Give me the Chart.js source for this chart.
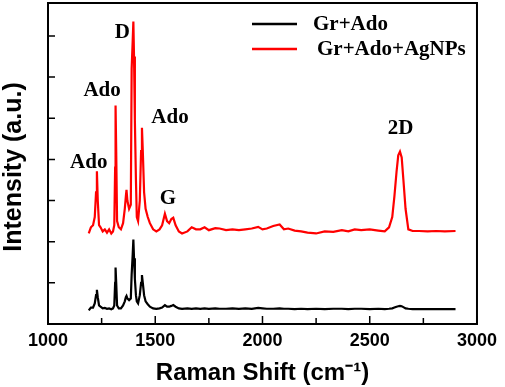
<!DOCTYPE html>
<html>
<head>
<meta charset="utf-8">
<script src="https://cdn.jsdelivr.net/npm/chart.js@4/dist/chart.umd.min.js"></script>
<style>
  html, body { margin: 0; padding: 0; background: #fff; }
  #wrap { width: 505px; height: 387px; }
</style>
</head>
<body>
<div id="wrap"><canvas id="raman-chart" width="505" height="387"></canvas></div>
<script>
// Raman shift positions (cm-1), shared by both spectra
var shift = [1190, 1200, 1210, 1218, 1224, 1228, 1232, 1238, 1245, 1255, 1265, 1275, 1285, 1295, 1303, 1309,
    1313, 1315, 1318, 1322, 1330, 1340, 1350, 1358, 1363, 1366, 1370, 1378, 1386, 1390, 1395, 1398, 1401,
    1405, 1410, 1414, 1420, 1428, 1434, 1438, 1442, 1448, 1455, 1465, 1475, 1490, 1505, 1520, 1532, 1545,
    1555, 1565, 1575, 1584, 1595, 1610, 1625, 1650, 1670, 1690, 1710, 1730, 1750, 1780, 1800, 1830, 1860,
    1890, 1920, 1950, 1980, 2000, 2020, 2050, 2080, 2100, 2120, 2150, 2180, 2210, 2250, 2290, 2330, 2370,
    2400, 2430, 2460, 2500, 2540, 2570, 2590, 2605, 2615, 2625, 2633, 2641, 2649, 2657, 2667, 2680, 2700,
    2730, 2770, 2810, 2850, 2900];

// Gr+Ado (black)
var grAdo = [0.33, 0.40, 0.40, 0.50, 0.70, 0.83, 0.65, 0.45, 0.42, 0.38, 0.39, 0.37, 0.38, 0.36, 0.38, 0.45,
    1.00, 1.37, 1.00, 0.45, 0.38, 0.38, 0.45, 0.55, 0.65, 0.68, 0.62, 0.58, 0.62, 1.20, 1.70, 2.05, 1.60,
    1.10, 0.70, 0.55, 0.50, 0.70, 1.00, 1.19, 1.00, 0.70, 0.55, 0.48, 0.42, 0.38, 0.37, 0.38, 0.40, 0.46,
    0.42, 0.42, 0.44, 0.46, 0.42, 0.38, 0.37, 0.38, 0.37, 0.38, 0.37, 0.38, 0.37, 0.38, 0.37, 0.37, 0.38,
    0.37, 0.38, 0.37, 0.39, 0.38, 0.37, 0.37, 0.38, 0.37, 0.37, 0.36, 0.37, 0.36, 0.37, 0.36, 0.37, 0.37,
    0.36, 0.37, 0.37, 0.36, 0.37, 0.36, 0.37, 0.38, 0.40, 0.42, 0.43, 0.44, 0.43, 0.41, 0.38, 0.37, 0.36,
    0.36, 0.36, 0.36, 0.36, 0.36];

// Gr+Ado+AgNPs (red)
var grAdoAg = [2.20, 2.35, 2.40, 2.60, 3.20, 3.71, 3.00, 2.40, 2.35, 2.25, 2.30, 2.22, 2.30, 2.20, 2.25, 2.40,
    3.80, 5.31, 4.20, 2.50, 2.35, 2.30, 2.45, 2.80, 3.10, 3.26, 3.00, 2.80, 2.90, 6.20, 6.90, 7.35, 6.50,
    4.95, 3.50, 2.60, 2.50, 3.00, 4.20, 4.77, 4.20, 3.20, 2.80, 2.60, 2.45, 2.30, 2.25, 2.30, 2.40, 2.68,
    2.50, 2.45, 2.55, 2.58, 2.40, 2.25, 2.20, 2.25, 2.35, 2.30, 2.30, 2.35, 2.28, 2.33, 2.32, 2.28, 2.30,
    2.28, 2.30, 2.32, 2.36, 2.30, 2.32, 2.38, 2.42, 2.30, 2.32, 2.27, 2.25, 2.22, 2.20, 2.25, 2.24, 2.28,
    2.25, 2.30, 2.28, 2.30, 2.27, 2.25, 2.35, 2.60, 3.10, 3.70, 4.10, 4.19, 4.05, 3.50, 2.80, 2.30, 2.26,
    2.26, 2.25, 2.26, 2.25, 2.26];

// peak annotations
var peakNames = ['Ado', 'Ado', 'D', 'Ado', 'G', '2D'];
var peakShift = [1190, 1252, 1346, 1569, 1559, 2644];
var peakHeight = [3.93, 5.66, 7.07, 5.02, 3.05, 4.76];

var xMajor = [1000, 1500, 2000, 2500, 3000];
var xMinor = [1250, 1750, 2250, 2750];
var yMajor = [1, 2, 3, 4, 5, 6, 7];

function toPoints(xs, ys) {
    return xs.map(function (v, i) { return {x: v, y: ys[i]}; });
}

var serifBold = 'bold 21px "Liberation Serif", "Times New Roman", serif';
var sansBold = '"Liberation Sans", Arial, sans-serif';

var decorations = {
    id: 'decorations',
    afterDatasetsDraw: function (chart) {
        var ctx = chart.ctx, a = chart.chartArea, x = chart.scales.x, y = chart.scales.y;
        ctx.save();
        ctx.strokeStyle = '#000';
        ctx.lineWidth = 2;
        ctx.strokeRect(a.left, a.top, a.right - a.left, a.bottom - a.top);

        // inward ticks
        ctx.lineWidth = 1.5;
        ctx.beginPath();
        xMajor.forEach(function (v) {
            var px = x.getPixelForValue(v);
            ctx.moveTo(px, a.bottom); ctx.lineTo(px, a.bottom - 8);
        });
        xMinor.forEach(function (v) {
            var px = x.getPixelForValue(v);
            ctx.moveTo(px, a.bottom); ctx.lineTo(px, a.bottom - 6);
        });
        yMajor.forEach(function (v) {
            var py = y.getPixelForValue(v);
            ctx.moveTo(a.left, py); ctx.lineTo(a.left + 7, py);
        });
        ctx.stroke();

        // peak labels
        ctx.fillStyle = '#000';
        ctx.font = serifBold;
        ctx.textAlign = 'center';
        ctx.textBaseline = 'middle';
        peakNames.forEach(function (name, i) {
            ctx.fillText(name, x.getPixelForValue(peakShift[i]), y.getPixelForValue(peakHeight[i]));
        });

        // legend
        var sets = chart.data.datasets;
        var ly = [24, 49], tx = [313, 317];
        sets.forEach(function (ds, i) {
            ctx.strokeStyle = ds.borderColor;
            ctx.lineWidth = 2.5;
            ctx.beginPath();
            ctx.moveTo(252, ly[i]); ctx.lineTo(297, ly[i]);
            ctx.stroke();
            ctx.textAlign = 'left';
            ctx.fillText(ds.label, tx[i], ly[i] + 1);
        });

        // y title
        ctx.translate(14, 167);
        ctx.rotate(-Math.PI / 2);
        ctx.textAlign = 'center';
        ctx.font = 'bold 25px ' + sansBold;
        ctx.fillText('Intensity (a.u.)', 0, 0);
        ctx.restore();
    }
};

var config = {
    type: 'line',
    data: {
        datasets: [
            {
                label: 'Gr+Ado',
                data: toPoints(shift, grAdo),
                borderColor: '#000000',
                borderWidth: 2.2,
                pointRadius: 0,
                tension: 0,
                fill: false,
            },
            {
                label: 'Gr+Ado+AgNPs',
                data: toPoints(shift, grAdoAg),
                borderColor: '#ff0000',
                borderWidth: 2.2,
                pointRadius: 0,
                tension: 0,
                fill: false,
            },
        ]
    },
    options: {
        responsive: false,
        animation: false,
        layout: {
            padding: {left: 48, right: 23, top: 3, bottom: 0}
        },
        plugins: {
            legend: {display: false},
            tooltip: {enabled: false},
        },
        scales: {
            x: {
                type: 'linear',
                min: 1000,
                max: 3000,
                grid: {display: false, drawTicks: false},
                border: {display: false},
                ticks: {
                    stepSize: 250,
                    autoSkip: false,
                    maxRotation: 0,
                    padding: 8,
                    color: '#000',
                    font: {family: sansBold, size: 18, weight: 'bold', lineHeight: 1},
                    callback: function (v) { return v % 500 === 0 ? String(v) : ''; }
                },
                title: {
                    display: true,
                    text: 'Raman Shift (cm\u207B\u00B9)',
                    color: '#000',
                    padding: {top: 3, bottom: 2},
                    font: {family: sansBold, size: 24, weight: 'bold', lineHeight: 1}
                }
            },
            y: {
                display: false,
                min: 0,
                max: 7.8,
            }
        }
    },
    plugins: [decorations]
};

var ctx = document.getElementById('raman-chart').getContext('2d');
window.ramanChart = new Chart(ctx, config);
</script>
</body>
</html>
